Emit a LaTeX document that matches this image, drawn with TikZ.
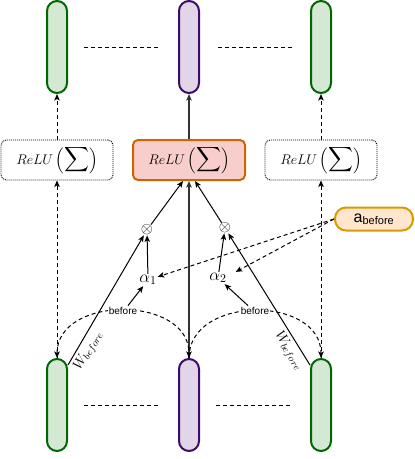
\RequirePackage{fix-cm}
\documentclass[tikz,border=0pt]{standalone}
\usepackage{amsmath}
\usepackage{fontspec}
\setsansfont{Liberation Sans}
\usetikzlibrary{positioning, arrows.meta}
\definecolor{greenfill}{HTML}{D5E8D4}
\definecolor{greenline}{HTML}{006600}
\definecolor{purplefill}{HTML}{E1D5E7}
\definecolor{purpleline}{HTML}{3D0A6E}
\definecolor{redfill}{HTML}{F8CECC}
\definecolor{redline}{HTML}{CC6600}
\definecolor{orangefill}{HTML}{FFE6CC}
\definecolor{orangeline}{HTML}{D79B00}
\newcommand{\bigsum}{\text{\fontsize{16}{16}\selectfont$\displaystyle\sum$}}
\tikzset{
>={Stealth[length=6.5pt, width=5.5pt, inset=1.5pt]},
pill/.style={shape=rectangle, rounded corners=10pt, minimum width=20pt, minimum height=92pt, inner sep=0, line width=2pt},
outer/.style={pill, draw=greenline, fill=greenfill}, inner/.style={pill, draw=purpleline, fill=purplefill},
relu/.style={shape=rectangle, rounded corners=5pt, minimum width=112pt, minimum height=40pt, draw, line width=0.9pt, dash pattern=on 1pt off 1pt, font=\fontsize{14}{16}\selectfont},
active/.style={relu, solid, draw=redline, fill=redfill, line width=2pt},
mult/.style={inner sep=0, font=\fontsize{15.5}{16}\selectfont},
coef/.style={inner sep=1pt, font=\fontsize{17}{18}\selectfont},
tag/.style={fill=white, inner sep=1pt, font=\sffamily\fontsize{10}{12}\selectfont},
attn/.style={shape=rectangle, rounded corners=11pt, minimum width=78pt, minimum height=23pt, inner sep=0, draw=orangeline, fill=orangefill, line width=2pt, font=\sffamily\fontsize{16}{18}\selectfont},
dashline/.style={line width=1pt, dash pattern=on 4pt off 3pt},
link/.style={line width=1pt}}

\begin{document}
\begin{tikzpicture}[x=1pt, y=-1pt]
\useasboundingbox (0,0) rectangle (415,459);
\foreach \kind [count=\j, evaluate={\jx=int(57 + 132 * (\j-1));}] in {outer, inner, outer}{
      \node [\kind] at (\jx, 47) (top-\j) {};
      \node [\kind] at (\jx, 405) (bot-\j) {};
}
\draw [dashline] ([xshift=16pt]top-1.east) -- ([xshift=-20pt]top-2.west);
\draw [dashline] ([xshift=18pt]top-2.east) -- ([xshift=-18pt]top-3.west);
\draw [dashline] ([xshift=16pt]bot-1.east) -- ([xshift=-20pt]bot-2.west);
\draw [dashline] ([xshift=16pt]bot-2.east) -- ([xshift=-20pt]bot-3.west);

\node [relu] at (57, 160) (relu-1) {$ReLU\,\Big(\bigsum\Big)$};
\node [active] at (189, 160) (relu-2) {$ReLU\,\Big(\bigsum\Big)$};
\node [relu] at (321, 160) (relu-3) {$ReLU\,\Big(\bigsum\Big)$};
\draw [dashline, ->] (relu-1) -- (top-1);
\draw [link, line width=1.2pt, black!80, ->] (relu-2) -- (top-2);
\draw [dashline, ->] (relu-3) -- (top-3);
\draw [dashline, ->] (bot-1) -- (relu-1);
\draw [dashline, ->] (bot-3) -- (relu-3);

% weighted links
\node [mult] at (147, 230) (ot-1) {$\otimes$};
\node [mult] at (225, 228) (ot-2) {$\otimes$};
\node [coef] at (148, 280) (alpha-1) {$\alpha_1$};
\node [coef] at (218, 278) (alpha-2) {$\alpha_2$};
\draw [link, ->] ([yshift=-7pt]bot-1.north east) -- (ot-1)
      node [pos=0.15, sloped, below, font=\fontsize{14}{16}\selectfont] {$W_{before}$};
\draw [link, ->] ([yshift=-7pt]bot-3.north west) -- (ot-2)
      node [pos=0.15, sloped, below, font=\fontsize{14}{16}\selectfont] {$W_{before}$};
\draw [link, ->] (ot-1) -- ([xshift=-6pt]relu-2.south);
\draw [link, ->] (ot-2) -- ([xshift=6pt]relu-2.south);
\draw [link, line width=1.2pt, black!80, ->] (bot-2) -- (relu-2);
\draw [link, ->] (alpha-1) -- (ot-1);
\draw [link, ->] (alpha-2) -- (ot-2);

% before
\draw [dashline, <->] (bot-1.north) .. controls +(0,-63) and +(0,-63) .. (bot-2.north)
      node [midway, tag] (before-1) {before};
\draw [dashline, ->] (bot-2.north) .. controls +(0,-63) and +(0,-63) .. (bot-3.north)
      node [midway, tag] (before-2) {before};
\draw [link, ->] ([xshift=5pt]before-1.north) -- (alpha-1);
\draw [link, ->] ([xshift=-7pt]before-2.north) -- (alpha-2);

\node [attn] at (374, 219) (abefore) {a\textsubscript{\fontsize{11}{12}\selectfont before}};
\draw [dashline, ->] (abefore.west) -- (alpha-1);
\draw [dashline, ->] (abefore.west) -- ([xshift=8pt]alpha-2.north east);
\end{tikzpicture}
\end{document}
